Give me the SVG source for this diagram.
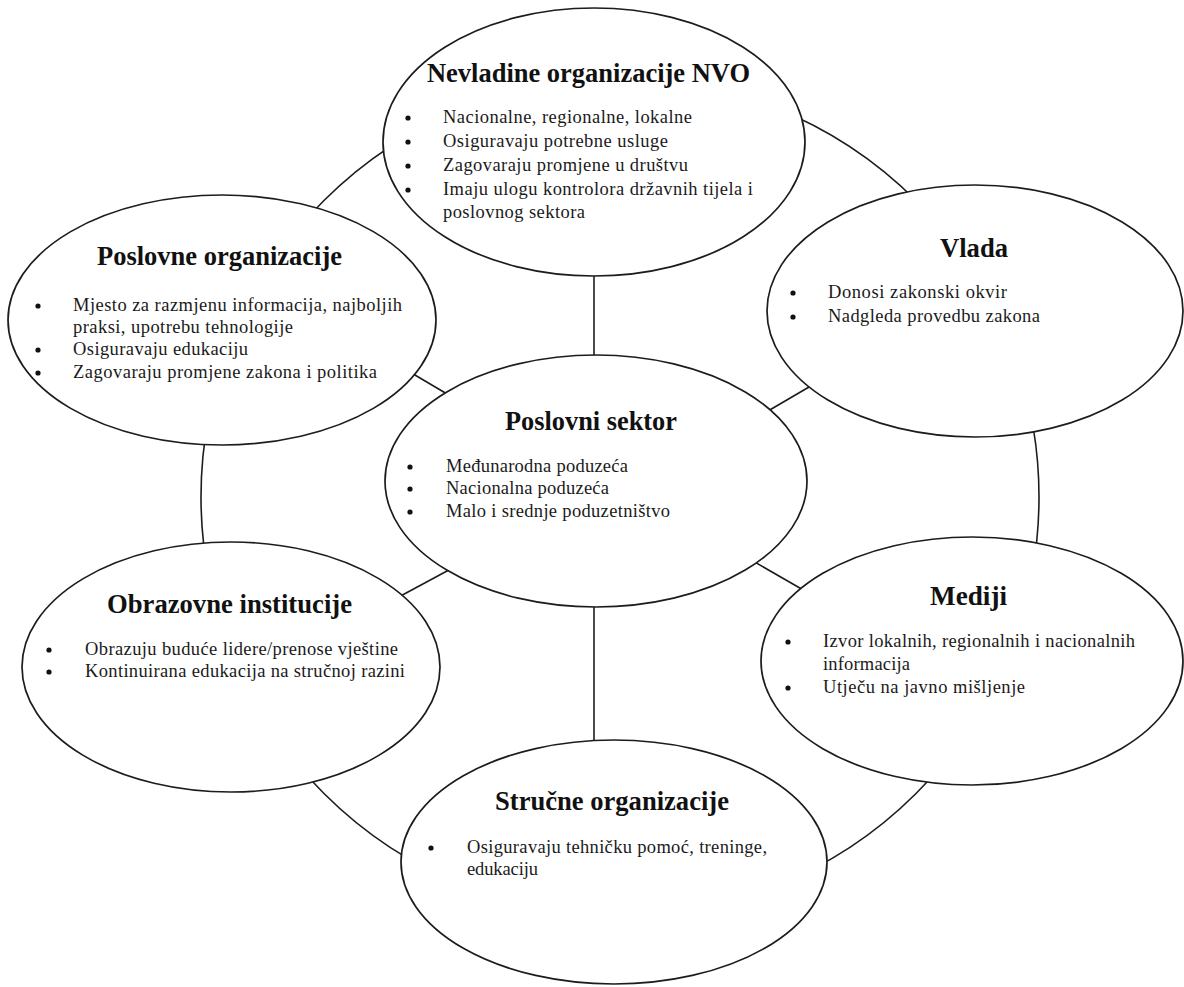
<svg xmlns="http://www.w3.org/2000/svg" width="1184" height="987" viewBox="0 0 1184 987">
<style>
.e{fill:#fff;stroke:#1c1c1c;stroke-width:1.7}
.c{fill:none;stroke:#1c1c1c;stroke-width:1.6}
.t{font-family:"Liberation Serif","Times New Roman",serif;font-weight:bold;font-size:26.5px;fill:#111}
.b{font-family:"Liberation Serif","Times New Roman",serif;font-size:18.5px;fill:#1a1a1a}
.d{fill:#111}
</style>
<rect width="1184" height="987" fill="#fff"/>
<g id="connectors">
<circle class="c" cx="620" cy="497" r="419"/>
<line class="c" x1="594" y1="260" x2="594" y2="370"/>
<line class="c" x1="594" y1="590" x2="594" y2="755"/>
<line class="c" x1="398" y1="365" x2="464" y2="404"/>
<line class="c" x1="756" y1="418" x2="821" y2="380"/>
<line class="c" x1="395" y1="599" x2="460" y2="564"/>
<line class="c" x1="746" y1="557" x2="812" y2="595"/>
</g>
<g id="nvo">
<ellipse class="e" cx="594" cy="142" rx="211" ry="134"/>
<text class="t" x="427" y="82" textLength="323" lengthAdjust="spacingAndGlyphs">Nevladine organizacije NVO</text>
<circle class="d" cx="408" cy="118" r="2.6"/><text class="b" x="443" y="123" textLength="249" lengthAdjust="spacing">Nacionalne, regionalne, lokalne</text>
<circle class="d" cx="408" cy="142" r="2.6"/><text class="b" x="443" y="147" textLength="225" lengthAdjust="spacing">Osiguravaju potrebne usluge</text>
<circle class="d" cx="408" cy="166" r="2.6"/><text class="b" x="443" y="171" textLength="245" lengthAdjust="spacing">Zagovaraju promjene u društvu</text>
<circle class="d" cx="408" cy="190" r="2.6"/><text class="b" x="443" y="195" textLength="310" lengthAdjust="spacing">Imaju ulogu kontrolora državnih tijela i</text>
<text class="b" x="443" y="218" textLength="142" lengthAdjust="spacing">poslovnog sektora</text>
</g>
<g id="poslovne-organizacije">
<ellipse class="e" cx="222" cy="320" rx="214" ry="125"/>
<text class="t" x="97" y="265" textLength="245" lengthAdjust="spacingAndGlyphs">Poslovne organizacije</text>
<circle class="d" cx="38" cy="306" r="2.6"/><text class="b" x="73" y="311" textLength="329" lengthAdjust="spacing">Mjesto za razmjenu informacija, najboljih</text>
<text class="b" x="73" y="333" textLength="220" lengthAdjust="spacing">praksi, upotrebu tehnologije</text>
<circle class="d" cx="38" cy="350" r="2.6"/><text class="b" x="73" y="355" textLength="175" lengthAdjust="spacing">Osiguravaju edukaciju</text>
<circle class="d" cx="38" cy="373" r="2.6"/><text class="b" x="73" y="378" textLength="304" lengthAdjust="spacing">Zagovaraju promjene zakona i politika</text>
</g>
<g id="vlada">
<ellipse class="e" cx="975" cy="311" rx="208" ry="126"/>
<text class="t" x="940" y="257" textLength="68" lengthAdjust="spacingAndGlyphs">Vlada</text>
<circle class="d" cx="793" cy="293" r="2.6"/><text class="b" x="828" y="298" textLength="179" lengthAdjust="spacing">Donosi zakonski okvir</text>
<circle class="d" cx="793" cy="317" r="2.6"/><text class="b" x="828" y="322" textLength="212" lengthAdjust="spacing">Nadgleda provedbu zakona</text>
</g>
<g id="poslovni-sektor">
<ellipse class="e" cx="596" cy="481" rx="211" ry="126"/>
<text class="t" x="505" y="430" textLength="172" lengthAdjust="spacingAndGlyphs">Poslovni sektor</text>
<circle class="d" cx="410" cy="467" r="2.6"/><text class="b" x="446" y="472" textLength="182" lengthAdjust="spacing">Međunarodna poduzeća</text>
<circle class="d" cx="410" cy="489" r="2.6"/><text class="b" x="446" y="494" textLength="163" lengthAdjust="spacing">Nacionalna poduzeća</text>
<circle class="d" cx="410" cy="512" r="2.6"/><text class="b" x="446" y="517" textLength="224" lengthAdjust="spacing">Malo i srednje poduzetništvo</text>
</g>
<g id="obrazovne-institucije">
<ellipse class="e" cx="231" cy="667" rx="209" ry="125"/>
<text class="t" x="107" y="613" textLength="245" lengthAdjust="spacingAndGlyphs">Obrazovne institucije</text>
<circle class="d" cx="49" cy="650" r="2.6"/><text class="b" x="85" y="655" textLength="313" lengthAdjust="spacing">Obrazuju buduće lidere/prenose vještine</text>
<circle class="d" cx="49" cy="672" r="2.6"/><text class="b" x="85" y="677" textLength="320" lengthAdjust="spacing">Kontinuirana edukacija na stručnoj razini</text>
</g>
<g id="mediji">
<ellipse class="e" cx="972" cy="661" rx="211" ry="124"/>
<text class="t" x="930" y="605" textLength="77" lengthAdjust="spacingAndGlyphs">Mediji</text>
<circle class="d" cx="788" cy="642" r="2.6"/><text class="b" x="823" y="647" textLength="312" lengthAdjust="spacing">Izvor lokalnih, regionalnih i nacionalnih</text>
<text class="b" x="823" y="670" textLength="87" lengthAdjust="spacing">informacija</text>
<circle class="d" cx="788" cy="688" r="2.6"/><text class="b" x="823" y="693" textLength="202" lengthAdjust="spacing">Utječu na javno mišljenje</text>
</g>
<g id="strucne-organizacije">
<ellipse class="e" cx="614" cy="862" rx="213" ry="122"/>
<text class="t" x="495" y="810" textLength="234" lengthAdjust="spacingAndGlyphs">Stručne organizacije</text>
<circle class="d" cx="431" cy="848" r="2.6"/><text class="b" x="467" y="853" textLength="300" lengthAdjust="spacing">Osiguravaju tehničku pomoć, treninge,</text>
<text class="b" x="467" y="875" textLength="71" lengthAdjust="spacing">edukaciju</text>
</g>
</svg>
